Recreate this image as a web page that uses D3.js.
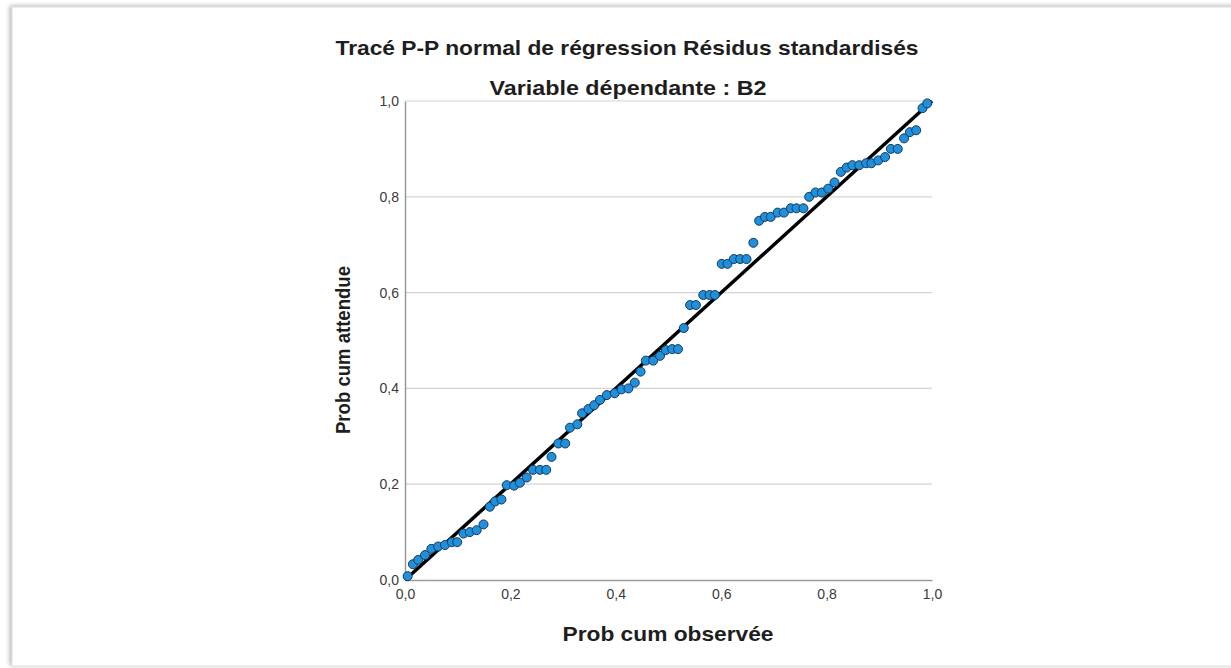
<!DOCTYPE html>
<html>
<head>
<meta charset="utf-8">
<script src="https://cdn.jsdelivr.net/npm/d3@7"></script>
<style>
  html, body { margin: 0; padding: 0; background: #fff; }
  svg { display: block; font-family: "Liberation Sans", Arial, sans-serif; }
</style>
</head>
<body>
<div id="chart"></div>
<script>
// Prob cum observée / Prob cum attendue
const obsProb = [0.005,0.015,0.025,0.038,0.050,0.063,0.076,0.089,0.099,0.111,0.123,0.136,0.149,0.161,0.171,0.183,0.193,0.207,0.218,0.231,0.243,0.256,0.268,0.278,0.291,0.304,0.313,0.327,0.336,0.348,0.359,0.370,0.383,0.398,0.411,0.424,0.436,0.447,0.457,0.471,0.484,0.495,0.507,0.518,0.529,0.541,0.552,0.566,0.578,0.588,0.601,0.612,0.624,0.636,0.648,0.661,0.672,0.683,0.694,0.707,0.719,0.732,0.743,0.756,0.767,0.779,0.791,0.803,0.815,0.827,0.838,0.849,0.862,0.875,0.885,0.898,0.911,0.922,0.935,0.947,0.958,0.970,0.982,0.991];
const expProb = [0.008,0.033,0.042,0.052,0.065,0.070,0.073,0.079,0.079,0.097,0.100,0.104,0.116,0.153,0.164,0.168,0.198,0.197,0.203,0.214,0.230,0.230,0.230,0.257,0.285,0.285,0.318,0.325,0.348,0.357,0.365,0.376,0.386,0.390,0.398,0.400,0.412,0.435,0.458,0.458,0.468,0.480,0.482,0.482,0.526,0.574,0.574,0.595,0.595,0.595,0.660,0.660,0.670,0.670,0.670,0.704,0.750,0.758,0.758,0.767,0.767,0.776,0.776,0.776,0.800,0.809,0.809,0.817,0.830,0.852,0.861,0.866,0.866,0.870,0.870,0.876,0.883,0.900,0.900,0.922,0.935,0.939,0.985,0.995];
const ticks = [0, 0.2, 0.4, 0.6, 0.8, 1.0];
const title = 'Tracé P-P normal de régression Résidus standardisés';
const subtitle = 'Variable dépendante : B2';
const xLabel = 'Prob cum observée';
const yLabel = 'Prob cum attendue';

const width = 1231, height = 668;
const plot = {left: 405, right: 932, top: 101, bottom: 580};

const svg = d3.select('#chart').append('svg')
    .attr('width', width)
    .attr('height', height);

// Cadre avec ombre
const defs = svg.append('defs');
const f = defs.append('filter').attr('id', 'shadow')
    .attr('x', '-5%').attr('y', '-5%').attr('width', '110%').attr('height', '110%');
f.append('feDropShadow')
    .attr('dx', -2).attr('dy', -1)
    .attr('stdDeviation', 2)
    .attr('flood-color', '#888')
    .attr('flood-opacity', 0.6);

svg.append('rect')
    .attr('x', 12).attr('y', 7)
    .attr('width', 1300).attr('height', 659)
    .attr('fill', '#fff')
    .attr('stroke', '#e0e0e0')
    .attr('filter', 'url(#shadow)');

const x = d3.scaleLinear().domain([0, 1]).range([plot.left, plot.right]);
const y = d3.scaleLinear().domain([0, 1]).range([plot.bottom, plot.top]);

// Grille
svg.append('g')
    .selectAll('line')
    .data(ticks.filter(d => d > 0))
    .enter()
    .append('line')
    .attr('x1', plot.left).attr('x2', plot.right)
    .attr('y1', d => y(d)).attr('y2', d => y(d))
    .attr('stroke', '#d4d4d4')
    .attr('stroke-width', 1.2);

const fmt = d => d3.format('.1f')(d).replace('.', ',');

// Axes
const xAxis = svg.append('g')
    .attr('transform', 'translate(0,' + plot.bottom + ')')
    .call(d3.axisBottom(x).tickValues(ticks).tickFormat(fmt).tickSize(0).tickPadding(9));
const yAxis = svg.append('g')
    .attr('transform', 'translate(' + plot.left + ',0)')
    .call(d3.axisLeft(y).tickValues(ticks).tickFormat(fmt).tickSize(0).tickPadding(6));

[xAxis, yAxis].forEach(a => {
    a.select('.domain').attr('stroke', '#9a9a9a').attr('stroke-width', 1.5);
    a.selectAll('text')
        .attr('fill', '#3a3a3a')
        .style('font-size', '14px')
        .style('font-family', '"Liberation Sans", Arial, sans-serif');
});

// Ligne de référence
svg.append('line')
    .attr('x1', x(0)).attr('y1', y(0))
    .attr('x2', x(1)).attr('y2', y(1))
    .attr('stroke', '#000')
    .attr('stroke-width', 3.5);

// Points
svg.append('g')
    .selectAll('circle')
    .data(obsProb.map((d, i) => [d, expProb[i]]))
    .enter()
    .append('circle')
    .attr('cx', d => x(d[0]))
    .attr('cy', d => y(d[1]))
    .attr('r', 4.5)
    .attr('fill', '#1f90dc')
    .attr('stroke', '#163a5c')
    .attr('stroke-width', 1);

// Titres
function bold(t, px, py, len) {
    return svg.append('text')
        .attr('x', px).attr('y', py)
        .attr('text-anchor', 'middle')
        .attr('textLength', len)
        .attr('lengthAdjust', 'spacingAndGlyphs')
        .style('font-size', '21px').style('font-weight', 'bold')
        .attr('fill', '#1e1e1e')
        .text(t);
}

bold(title, 627, 55, 583);
bold(subtitle, 628, 95, 277);
bold(xLabel, 668, 641, 211);
bold(yLabel, 0, 0, 168)
    .attr('transform', 'translate(350,350) rotate(-90)');
</script>
</body>
</html>
